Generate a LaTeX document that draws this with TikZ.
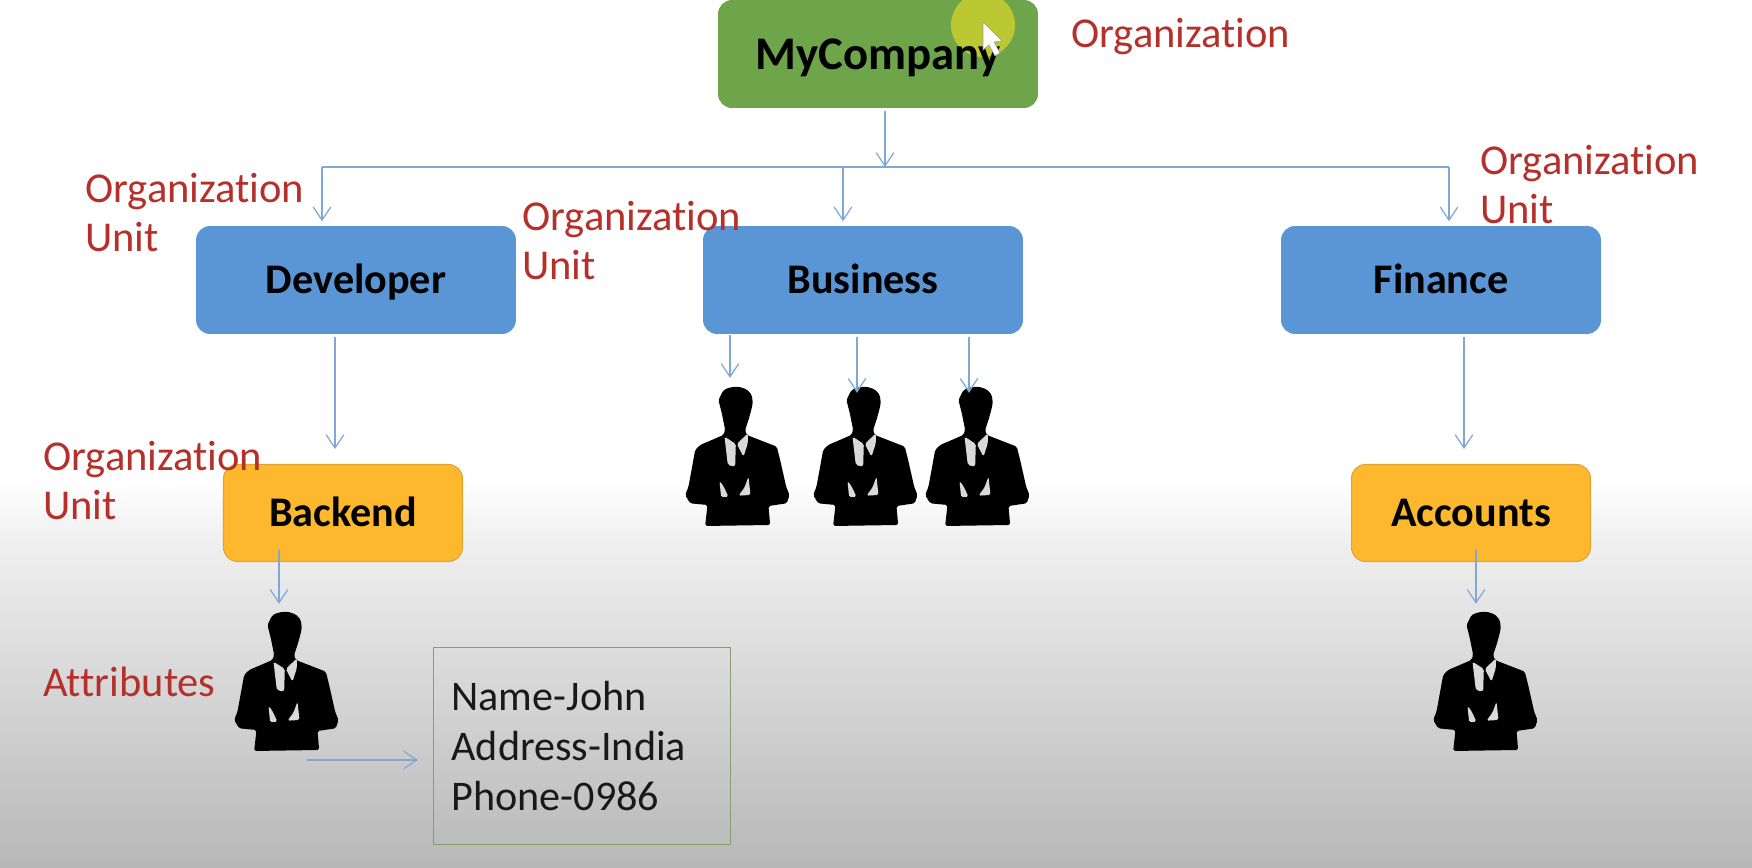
\documentclass[tikz,border=0pt]{standalone}
\usepackage{fontspec}
\setmainfont{Carlito}[Ligatures=CommonOff]
\usetikzlibrary{arrows.meta}
\definecolor{linkblue}{HTML}{7FA8D6}
\definecolor{labelred}{HTML}{B5302A}
\definecolor{hilite}{HTML}{BCC832}
\tikzset{
  unitbox/.style={rounded corners=.28cm,inner sep=0,minimum width=6.4cm,minimum height=2.16cm,text height=20pt,text depth=5pt,font=\fontsize{24}{28}\selectfont\bfseries,text=black},
  subbox/.style={unitbox,minimum width=4.78cm,minimum height=1.94cm},
  redlabel/.style={anchor=west,inner sep=0,align=left,text=labelred,font=\fontsize{24.2}{27.9}\selectfont},
  suitbox/.style={inner sep=0,minimum width=2.1cm,minimum height=2.8cm},
  link/.style={draw=linkblue,line width=.7pt,-{Straight Barb[length=7.5pt,width=10pt]}},
  suitman/.pic={
    \fill[black,scale=.3333,rounded corners=1pt] (115,10) -- (135,2) -- (160,0) -- (185,8) -- (200,25) -- (203,50) -- (197,75) -- (190,100) -- (180,130) -- (185,145) -- (275,180) -- (285,220) -- (303,300) -- (313,325) -- (305,350) -- (250,358) -- (255,415) -- (60,418) -- (67,355) -- (15,350) -- (0,325) -- (10,300) -- (30,190) -- (45,175) -- (115,145) -- (120,130) -- (110,80) -- (100,40) -- cycle;
    \fill[white,opacity=.85,scale=.3333,rounded corners=1pt] (118,150) -- (152,172) -- (150,240) -- (128,235) -- cycle;
    \fill[white,opacity=.85,scale=.3333,rounded corners=1pt] (188,140) -- (155,172) -- (175,210) -- (188,170) -- cycle;
    \fill[white,opacity=.85,scale=.3333,rounded corners=1pt] (103,283) -- (113,295) -- (130,330) -- (108,332) -- cycle;
    \fill[white,opacity=.85,scale=.3333,rounded corners=1pt] (190,270) -- (196,325) -- (160,327) -- (178,303) -- cycle;
  }
}
\begin{document}
\begin{tikzpicture}[x=.02cm,y=-.02cm]
  \useasboundingbox (0,0) rectangle (1752,868);
  \fill[white] (0,0) rectangle (1752,868);
  \shade[top color=white,bottom color=black!6] (0,480) rectangle (1752,541);
  \shade[top color=black!6,bottom color=black!28] (0,540) rectangle (1752,868);

  \node (mycompany) at (878,54) [unitbox,fill={rgb,255:red,110;green,164;blue,74},text height=23pt,font=\fontsize{26.6}{30}\selectfont\bfseries,
    path picture={\fill[hilite] ([shift={(105,-29)}]path picture bounding box.center) circle [radius=32];}] {MyCompany};
  \fill[white,draw=black!40,line width=.3pt] (983,22) -- (983,50) -- (989,45) -- (995,56) -- (1000,53) -- (994,42) -- (1002,41) -- cycle;

  \node (developer) at (356,280) [unitbox,fill={rgb,255:red,90;green,150;blue,213}] {Developer};
  \node (business) at (863,280) [unitbox,fill={rgb,255:red,90;green,150;blue,213}] {Business};
  \node (finance) at (1441,280) [unitbox,fill={rgb,255:red,90;green,150;blue,213}] {Finance};
  \node (backend) at (343,513) [subbox,fill={rgb,255:red,253;green,184;blue,46},draw={rgb,255:red,222;green,165;blue,50},line width=.6pt] {Backend};
  \node (accounts) at (1471,513) [subbox,fill={rgb,255:red,253;green,184;blue,46},draw={rgb,255:red,222;green,165;blue,50},line width=.6pt] {Accounts};

  \node (suita) at (738,457) [suitbox] {};
  \node (suitb) at (866,457) [suitbox] {};
  \node (suitc) at (978,457) [suitbox] {};
  \node (suitd) at (287,682) [suitbox] {};
  \node (suite) at (1486,682) [suitbox] {};
  \pic at (suita.north west) {suitman};
  \pic at (suitb.north west) {suitman};
  \pic at (suitc.north west) {suitman};
  \pic at (suitd.north west) {suitman};
  \pic at (suite.north west) {suitman};

  \node (attrbox) at (582,746) [draw={rgb,255:red,138;green,158;blue,106},line width=.8pt,inner xsep=.36cm,inner ysep=0,minimum height=3.94cm,text width=5.22cm,align=left,font=\fontsize{24}{28.4}\selectfont,text=black!90] {Name-John\\Address-India\\Phone-0986};

  \node (orgtop) at (1071,37) [redlabel] {Organization};
  \node (orgdev) at (85,213) [redlabel] {Organization\\Unit};
  \node (orgbus) at (522,241) [redlabel] {Organization\\Unit};
  \node (orgfin) at (1480,185) [redlabel] {Organization\\Unit};
  \node (orgback) at (43,481) [redlabel] {Organization\\Unit};
  \node (attrlabel) at (43,682) [redlabel] {Attributes};

  \coordinate (bus) at (885,167);
  \coordinate (busl) at (322,167);
  \coordinate (busm) at (843,167);
  \coordinate (busr) at (1449,167);
  \coordinate (devdrop) at (335,337);
  \coordinate (findrop) at (1464,337);
  \coordinate (backdrop) at (279,550);
  \coordinate (accdrop) at (1476,550);
  \coordinate (busa) at (730,335);
  \coordinate (busb) at (857,337);
  \coordinate (busc) at (969,337);
  \coordinate (attrtail) at (307,760);

  \draw[link,shorten <=1.5pt] (mycompany.south -| bus) -- (bus);
  \draw[draw=linkblue,line width=.7pt] (busl) -- (busr);
  \draw[link,shorten >=2.5pt] (busl) -- (busl |- developer.north);
  \draw[link,shorten >=2.5pt] (busm) -- (busm |- business.north);
  \draw[link,shorten >=2.5pt] (busr) -- (busr |- finance.north);
  \draw[link,shorten >=8.5pt] (devdrop) -- (devdrop |- backend.north);
  \draw[link,shorten >=8.5pt] (findrop) -- (findrop |- accounts.north);
  \draw[link,shorten >=4.5pt] (backdrop) -- (backdrop |- suitd.north);
  \draw[link,shorten >=4.5pt] (accdrop) -- (accdrop |- suite.north);
  \draw[link,shorten >=5pt] (busa) -- (busa |- suita.north);
  \draw[link,shorten >=-3.5pt] (busb) -- (busb |- suitb.north);
  \draw[link,shorten >=-3.5pt] (busc) -- (busc |- suitc.north);
  \draw[link,shorten >=8.5pt] (attrtail) -- (attrtail -| attrbox.west);
\end{tikzpicture}
\end{document}
